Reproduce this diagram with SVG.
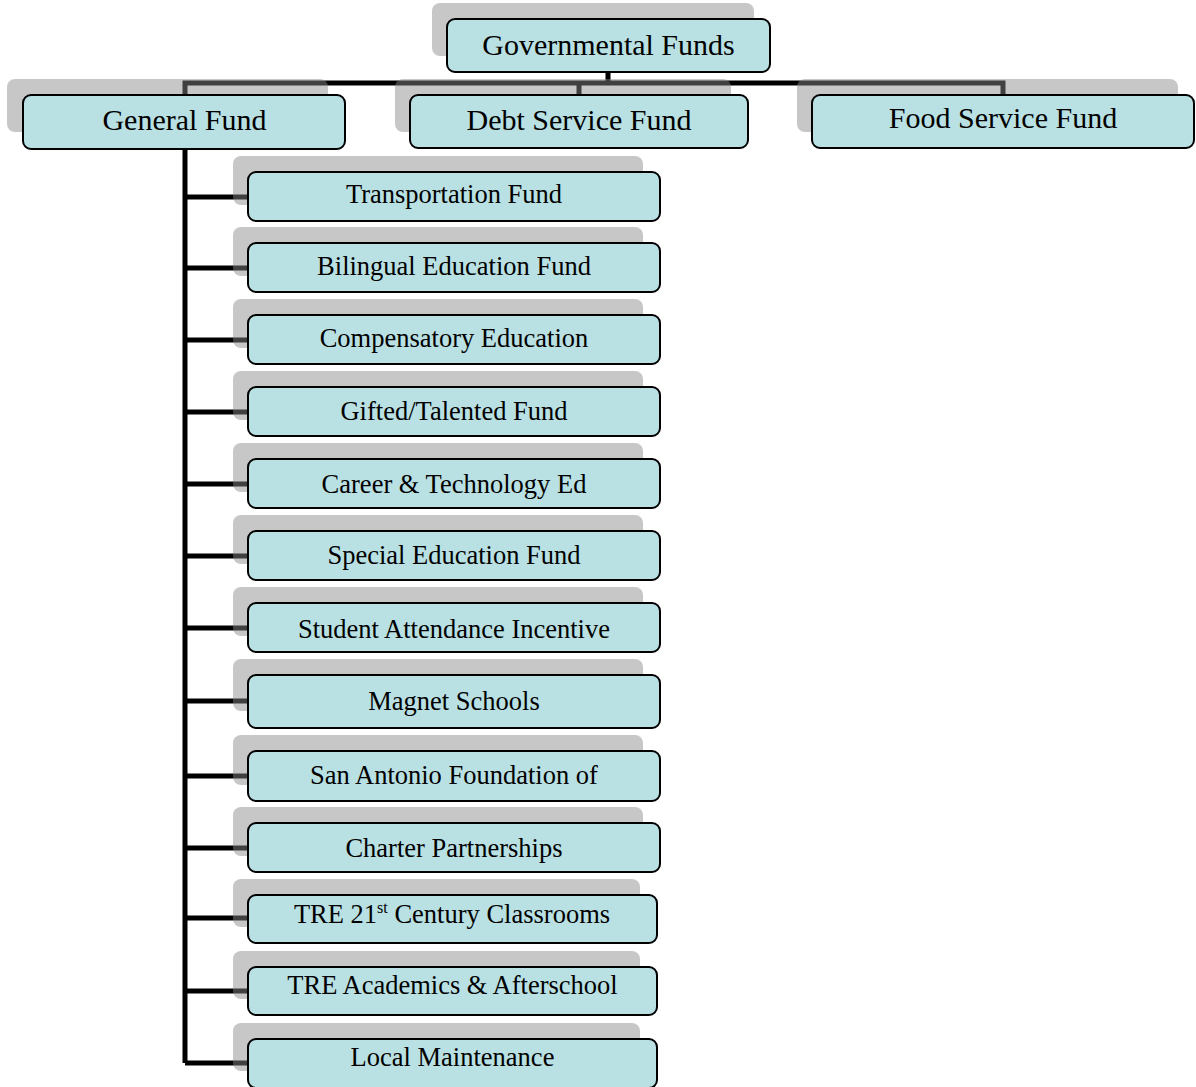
<svg xmlns="http://www.w3.org/2000/svg" width="1196" height="1087" viewBox="0 0 1196 1087">
<style>
.conn{fill:none;stroke:#000;stroke-width:5;stroke-linejoin:miter}
.sh{fill:#898989;fill-opacity:0.47}
.box{fill:#b9e0e3;stroke:#000;stroke-width:2}
.t1{font-family:"Liberation Serif","Times New Roman",serif;font-size:30px;fill:#000;text-anchor:middle}
.t2{font-family:"Liberation Serif","Times New Roman",serif;font-size:26.5px;fill:#000;text-anchor:middle}
</style>
<rect width="1196" height="1087" fill="#fff"/>
<g id="connectors">
<path class="conn" d="M608,72 V83 M185,95 V83 H1003 V95 M579,83 V95"/>
<path class="conn" d="M185,149 V1063"/>
<path class="conn" d="M185,197 H248 M185,268 H248 M185,340 H248 M185,412 H248 M185,484 H248 M185,556 H248 M185,628 H248 M185,701 H248 M185,776 H248 M185,848 H248 M185,918 H248 M185,991 H248 M185,1063 H248"/>
</g>
<g id="governmental-funds">
<rect class="sh" x="432" y="3" width="322" height="53" rx="8"/>
<rect class="box" x="447" y="19" width="323" height="53" rx="8"/>
<text class="t1" x="608.5" y="55">Governmental Funds</text>
</g>
<g id="general-fund">
<rect class="sh" x="7" y="79" width="321" height="53" rx="8"/>
<rect class="box" x="23" y="95" width="322" height="54" rx="8"/>
<text class="t1" x="184.5" y="130">General Fund</text>
</g>
<g id="debt-service-fund">
<rect class="sh" x="395" y="79" width="336" height="53" rx="8"/>
<rect class="box" x="410" y="95" width="338" height="53" rx="8"/>
<text class="t1" x="579" y="130">Debt Service Fund</text>
</g>
<g id="food-service-fund">
<rect class="sh" x="797" y="79" width="381" height="53" rx="8"/>
<rect class="box" x="812" y="95" width="382" height="53" rx="8"/>
<text class="t1" x="1003" y="128">Food Service Fund</text>
</g>
<g id="transportation-fund">
<rect class="sh" x="233" y="156" width="410" height="49" rx="8"/>
<rect class="box" x="248" y="172" width="412" height="49" rx="8"/>
<text class="t2" x="454" y="203">Transportation Fund</text>
</g>
<g id="bilingual-education-fund">
<rect class="sh" x="233" y="227" width="410" height="49" rx="8"/>
<rect class="box" x="248" y="243" width="412" height="49" rx="8"/>
<text class="t2" x="454" y="275">Bilingual Education Fund</text>
</g>
<g id="compensatory-education">
<rect class="sh" x="233" y="299" width="410" height="49" rx="8"/>
<rect class="box" x="248" y="315" width="412" height="49" rx="8"/>
<text class="t2" x="454" y="347">Compensatory Education</text>
</g>
<g id="gifted-talented-fund">
<rect class="sh" x="233" y="371" width="410" height="49" rx="8"/>
<rect class="box" x="248" y="387" width="412" height="49" rx="8"/>
<text class="t2" x="454" y="420">Gifted/Talented Fund</text>
</g>
<g id="career-technology-ed">
<rect class="sh" x="233" y="443" width="410" height="49" rx="8"/>
<rect class="box" x="248" y="459" width="412" height="49" rx="8"/>
<text class="t2" x="454" y="493">Career &amp; Technology Ed</text>
</g>
<g id="special-education-fund">
<rect class="sh" x="233" y="515" width="410" height="49" rx="8"/>
<rect class="box" x="248" y="531" width="412" height="49" rx="8"/>
<text class="t2" x="454" y="564">Special Education Fund</text>
</g>
<g id="student-attendance-incentive">
<rect class="sh" x="233" y="587" width="410" height="49" rx="8"/>
<rect class="box" x="248" y="603" width="412" height="49" rx="8"/>
<text class="t2" x="454" y="638">Student Attendance Incentive</text>
</g>
<g id="magnet-schools">
<rect class="sh" x="233" y="659" width="410" height="52" rx="8"/>
<rect class="box" x="248" y="675" width="412" height="53" rx="8"/>
<text class="t2" x="454" y="710">Magnet Schools</text>
</g>
<g id="san-antonio-foundation">
<rect class="sh" x="233" y="735" width="410" height="50" rx="8"/>
<rect class="box" x="248" y="751" width="412" height="50" rx="8"/>
<text class="t2" x="454" y="784">San Antonio Foundation of</text>
</g>
<g id="charter-partnerships">
<rect class="sh" x="233" y="807" width="410" height="49" rx="8"/>
<rect class="box" x="248" y="823" width="412" height="49" rx="8"/>
<text class="t2" x="454" y="857">Charter Partnerships</text>
</g>
<g id="tre-21st-century-classrooms">
<rect class="sh" x="233" y="879" width="407" height="48" rx="8"/>
<rect class="box" x="248" y="895" width="409" height="48" rx="8"/>
<text class="t2" x="452" y="923">TRE 21<tspan font-size="16" dy="-10">st</tspan><tspan dy="10"> Century Classrooms</tspan></text>
</g>
<g id="tre-academics-afterschool">
<rect class="sh" x="233" y="951" width="407" height="48" rx="8"/>
<rect class="box" x="248" y="967" width="409" height="48" rx="8"/>
<text class="t2" x="452.5" y="994">TRE Academics &amp; Afterschool</text>
</g>
<g id="local-maintenance">
<rect class="sh" x="233" y="1023" width="407" height="48" rx="8"/>
<rect class="box" x="248" y="1039" width="409" height="49" rx="8"/>
<text class="t2" x="452.5" y="1066">Local Maintenance</text>
</g>
</svg>
